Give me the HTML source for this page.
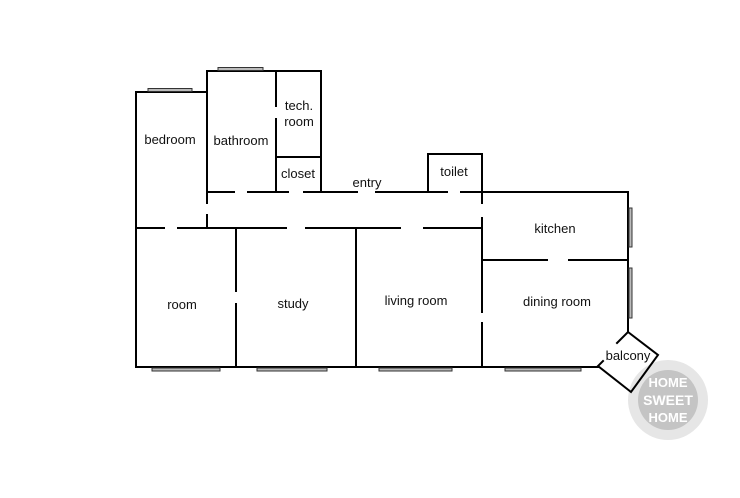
<!DOCTYPE html>
<html><head><style>
body{margin:0;background:#fff;}
svg text{font-family:"Liberation Sans",sans-serif;font-size:13px;fill:#111;text-anchor:middle;}
</style></head><body>
<svg width="740" height="493" viewBox="0 0 740 493" xmlns="http://www.w3.org/2000/svg">
<!-- watermark (behind) -->
<circle cx="668" cy="400" r="40" fill="#e6e6e6"/>
<circle cx="668" cy="400" r="30" fill="#c4c4c4"/>
<g style="font-family:'Liberation Sans',sans-serif;font-weight:bold;font-size:13px;text-anchor:middle">
<text x="668" y="387" style="fill:#fff;font-weight:bold">HOME</text>
<text x="668" y="405" style="fill:#fff;font-weight:bold;font-size:14px">SWEET</text>
<text x="668" y="422" style="fill:#fff;font-weight:bold">HOME</text>
</g>
<g stroke="#000" stroke-width="2" fill="none" stroke-linecap="square">
<path d="M136 367 V92 H207"/>
<path d="M207 192 V71 H321 V192"/>
<path d="M276 71 V106 M276 119 V192"/>
<path d="M276 157 H321"/>
<path d="M207 192 H234 M248 192 H288 M304 192 H357 M376 192 H447 M461 192 H628"/>
<path d="M428 192 V154 H482 V192"/>
<path d="M207 192 V203 M207 215 V228"/>
<path d="M136 228 H164 M178 228 H286 M306 228 H400 M424 228 H482"/>
<path d="M482 192 V203 M482 218 V312 M482 323 V367"/>
<path d="M482 260 H547 M569 260 H628"/>
<path d="M628 192 V332"/>
<path d="M236 228 V291 M236 304 V367"/>
<path d="M356 228 V367"/>
<path d="M136 367 H598"/>
<path d="M628 332 L617 343 M603 361 L598 366 L631 392 L658 355 L628 332"/>
</g>
<g fill="#bbb" stroke="#333" stroke-width="1">
<rect x="148" y="88.5" width="44" height="3"/>
<rect x="218" y="67.5" width="45" height="3"/>
<rect x="152" y="368" width="68" height="3"/>
<rect x="257" y="368" width="70" height="3"/>
<rect x="379" y="368" width="73" height="3"/>
<rect x="505" y="368" width="76" height="3"/>
<rect x="629" y="208" width="3" height="39"/>
<rect x="629" y="268" width="3" height="50"/>
</g>
<text x="170" y="144">bedroom</text>
<text x="241" y="145">bathroom</text>
<text x="299" y="110">tech.</text>
<text x="299" y="126">room</text>
<text x="298" y="178">closet</text>
<text x="367" y="187">entry</text>
<text x="454" y="176">toilet</text>
<text x="555" y="233">kitchen</text>
<text x="182" y="309">room</text>
<text x="293" y="308">study</text>
<text x="416" y="305">living room</text>
<text x="557" y="306">dining room</text>
<text x="628" y="360">balcony</text>
</svg>
</body></html>
